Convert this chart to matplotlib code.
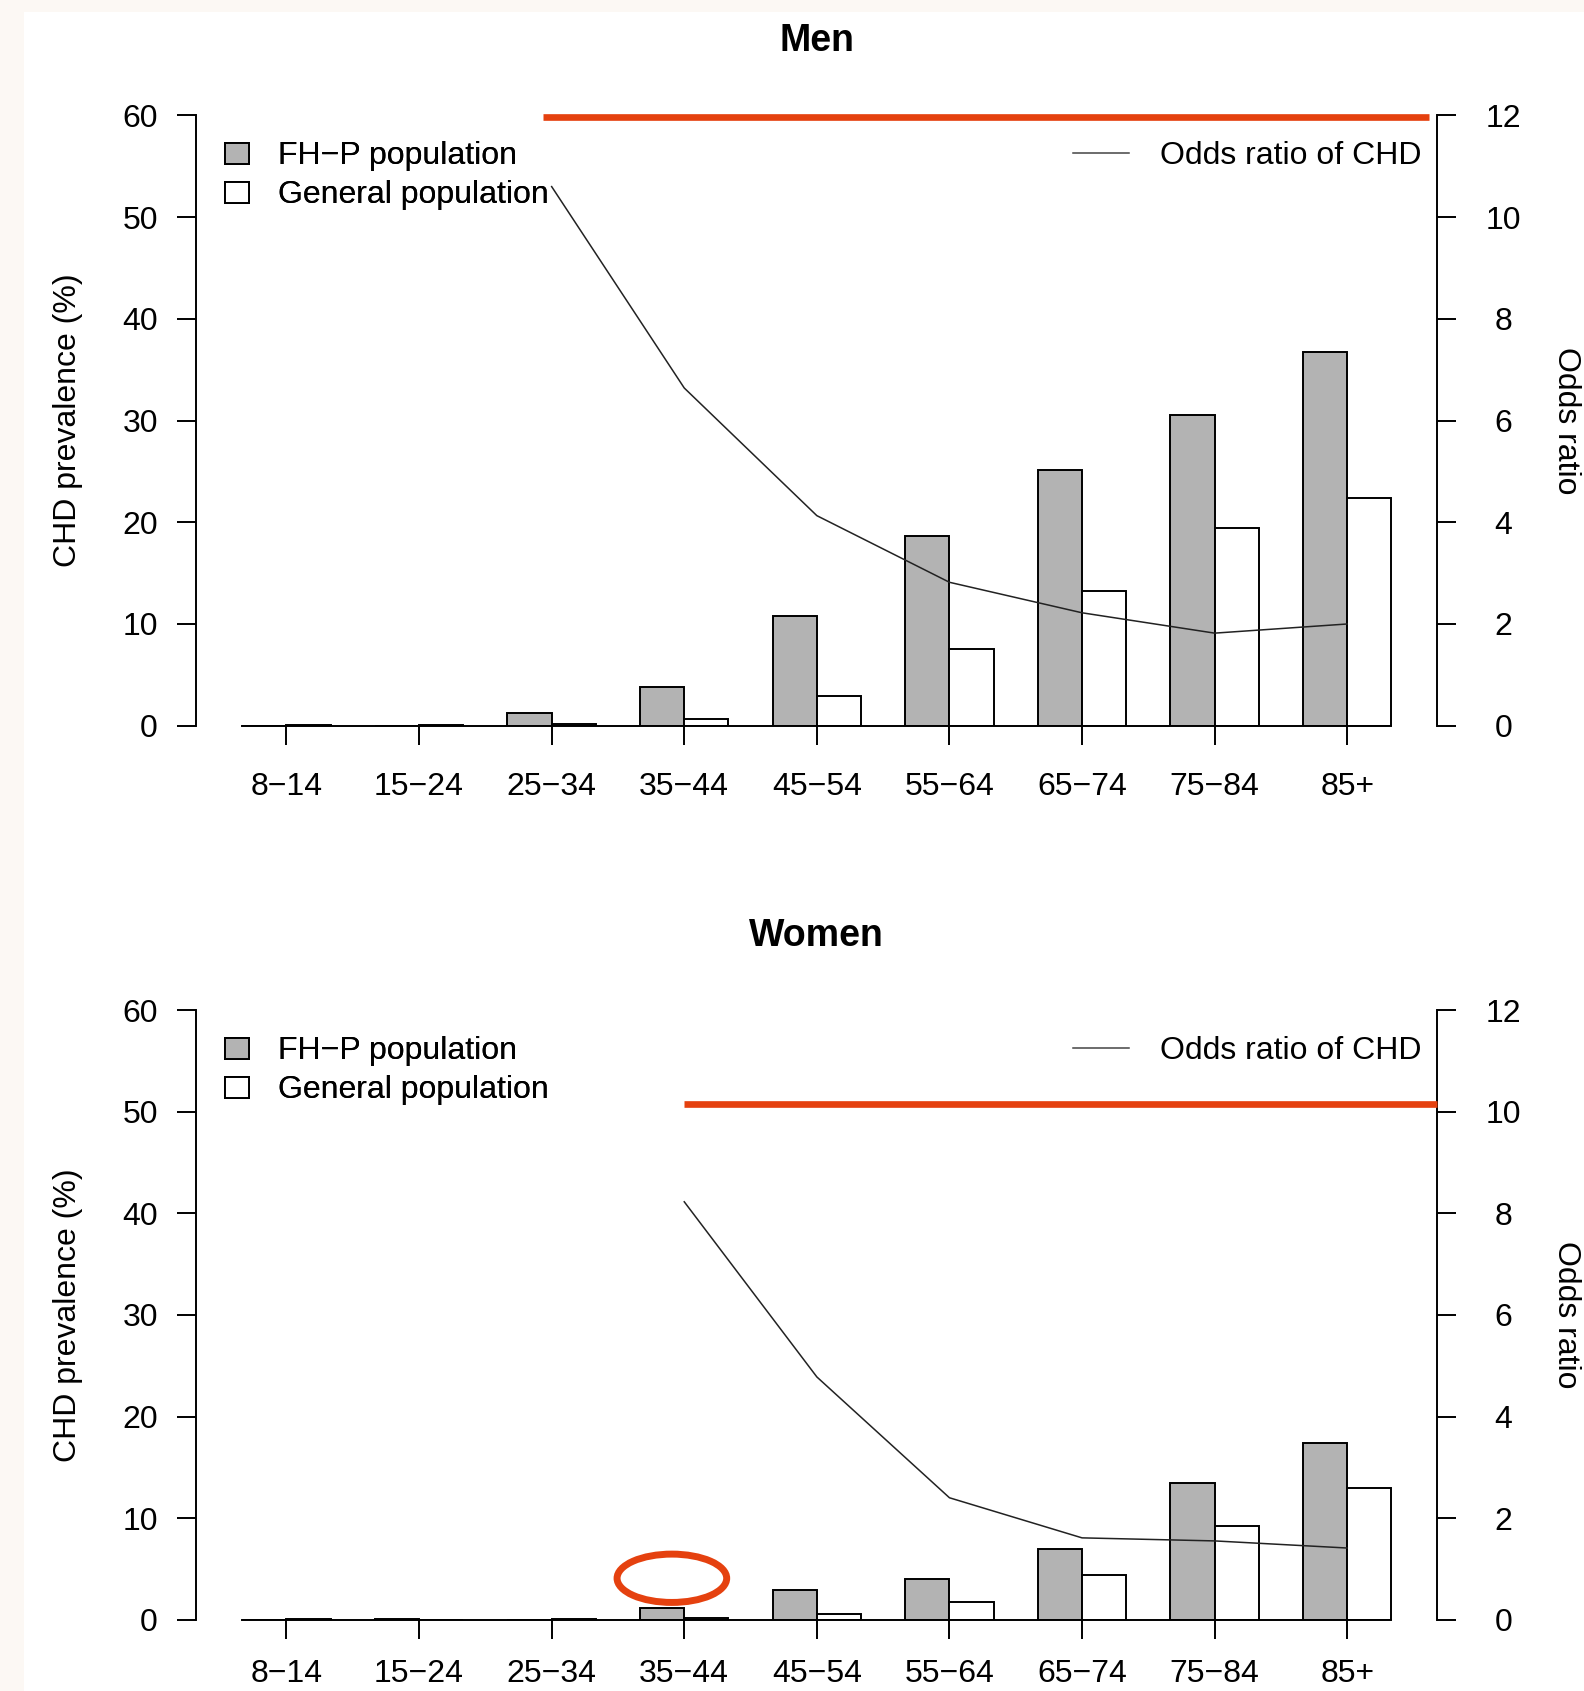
"""CHD prevalence and odds ratio by age group, FH-P vs general population."""
import numpy as np
import matplotlib

matplotlib.use("Agg")
import matplotlib.pyplot as plt
from matplotlib.lines import Line2D
from matplotlib.patches import Ellipse, Patch, Rectangle

plt.rcParams["font.family"] = ["Liberation Sans", "DejaVu Sans"]

# --- data ----------------------------------------------------------------
age_groups = ["8\u221214", "15\u221224", "25\u221234", "35\u221244", "45\u221254",
              "55\u221264", "65\u221274", "75\u221284", "85+"]

men_fhp = [0.0, 0.0, 1.25, 3.8, 10.8, 18.65, 25.1, 30.5, 36.7]
men_gen = [0.08, 0.08, 0.15, 0.65, 2.9, 7.5, 13.25, 19.45, 22.4]
men_or = [np.nan, np.nan, 10.6, 6.64, 4.13, 2.82, 2.22, 1.82, 2.0]

women_fhp = [0.0, 0.1, 0.0, 1.15, 2.9, 4.0, 6.95, 13.45, 17.4]
women_gen = [0.1, 0.0, 0.1, 0.15, 0.55, 1.7, 4.4, 9.2, 12.95]
women_or = [np.nan, np.nan, np.nan, 8.23, 4.78, 2.4, 1.61, 1.55, 1.41]

prev_ticks = [0, 10, 20, 30, 40, 50, 60]
or_ticks = [0, 2, 4, 6, 8, 10, 12]

# highlight marks added on top of the original figure
RED = "#E5410F"
men_mark = dict(y=11.97, x0=7.8, x1=27.84)
women_mark = dict(y=10.15, x0=11.0, x1=28.04)
women_ellipse = dict(center=(10.72, 4.07), width=2.48, height=4.76)

# --- layout ---------------------------------------------------------------
W, H, DPI = 1584, 1691, 100
GRAY = "#B3B3B3"
FS = 23


def fx(px):
    return px / W


def fy(py):
    return 1 - py / H


fig = plt.figure(figsize=(W / DPI, H / DPI), dpi=DPI, facecolor="#FCF8F4")
fig.patches.append(Rectangle((fx(24), 0), 1, fy(12), transform=fig.transFigure,
                             facecolor="white", edgecolor="none", zorder=-10))

AX_L, AX_R = 196.3, 1437.4


def draw_panel(top, bottom, title, fhp, gen, odds, mark, xpad):
    ax = fig.add_axes([fx(AX_L), fy(bottom), fx(AX_R) - fx(AX_L), (bottom - top) / H])
    ax.patch.set_visible(False)
    n = len(age_groups)
    centers = np.arange(n) * 3 + 2
    ax.bar(centers - 0.5, fhp, width=1.0, color=GRAY, edgecolor="black", linewidth=1.4)
    ax.bar(centers + 0.5, gen, width=1.0, color="white", edgecolor="black", linewidth=1.4)
    ax.set_xlim(-0.04, 28.04)
    ax.set_ylim(0, 60)

    for s in ("top", "right"):
        ax.spines[s].set_visible(False)
    ax.spines["left"].set_bounds(0, 60)
    ax.spines["bottom"].set_bounds(1, 27)
    for s in ("left", "bottom"):
        ax.spines[s].set_linewidth(1.4)

    ax.set_xticks(centers)
    ax.set_xticklabels(age_groups)
    ax.set_yticks(prev_ticks)
    ax.tick_params(axis="both", direction="out", length=13.7, width=1.4, labelsize=FS)
    ax.tick_params(axis="x", pad=xpad)
    ax.tick_params(axis="y", pad=14)

    ax2 = ax.twinx()
    ax2.set_ylim(0, 12)
    ax2.set_xlim(-0.04, 28.04)
    for s in ("top", "left", "bottom"):
        ax2.spines[s].set_visible(False)
    ax2.spines["right"].set_bounds(0, 12)
    ax2.spines["right"].set_linewidth(1.4)
    ax2.set_yticks(or_ticks)
    ax2.tick_params(axis="y", direction="out", length=13.7, width=1.4, labelsize=FS, pad=34)
    for lab in ax2.get_yticklabels():
        lab.set_horizontalalignment("center")
    ax2.plot(centers, odds, color="#222222", linewidth=1.1)

    ax2.plot([mark["x0"], mark["x1"]], [mark["y"], mark["y"]], color=RED,
             linewidth=4.8, solid_capstyle="butt", clip_on=False, zorder=5)

    # axis titles placed in figure pixels
    fig.text(fx(68), fy((top + bottom) / 2), "CHD prevalence (%)", rotation=90,
             ha="center", va="center", fontsize=FS)
    fig.text(fx(1566), fy((top + bottom) / 2), "Odds ratio", rotation=270,
             ha="center", va="center", fontsize=FS)
    fig.text(fx(816.7), fy(top - 74), title, ha="center", va="center",
             fontsize=27, fontweight="bold")

    leg_top = fy(top + 26)
    left_handles = [Patch(facecolor=GRAY, edgecolor="black", linewidth=1.4),
                    Patch(facecolor="white", edgecolor="black", linewidth=1.4)]
    leg = ax.legend(left_handles, ["FH\u2212P population", "General population"],
                    loc="upper left", bbox_to_anchor=(fx(225), leg_top),
                    bbox_transform=fig.transFigure, frameon=False, fontsize=FS,
                    handlelength=0.75, handleheight=0.63, handletextpad=0.91,
                    labelspacing=0.28, borderpad=0, borderaxespad=0)
    ax.add_artist(leg)
    ax2.legend([Line2D([], [], color="#444444", linewidth=1.1)], ["Odds ratio of CHD"],
               loc="upper right", bbox_to_anchor=(fx(1421), leg_top),
               bbox_transform=fig.transFigure, frameon=False, fontsize=FS,
               handlelength=1.75, handletextpad=0.95, borderpad=0, borderaxespad=0)
    return ax, ax2


men_ax, men_ax2 = draw_panel(115.4, 725.7, "Men", men_fhp, men_gen, men_or, men_mark,
                             xpad=19.5)
women_ax, women_ax2 = draw_panel(1010.4, 1619.6, "Women", women_fhp, women_gen, women_or,
                                 women_mark, xpad=15.0)

women_ax.add_patch(Ellipse(women_ellipse["center"], women_ellipse["width"],
                           women_ellipse["height"], facecolor="none", edgecolor=RED,
                           linewidth=5, clip_on=False, zorder=6))

fig.savefig("out.png", dpi=DPI, facecolor=fig.get_facecolor())
